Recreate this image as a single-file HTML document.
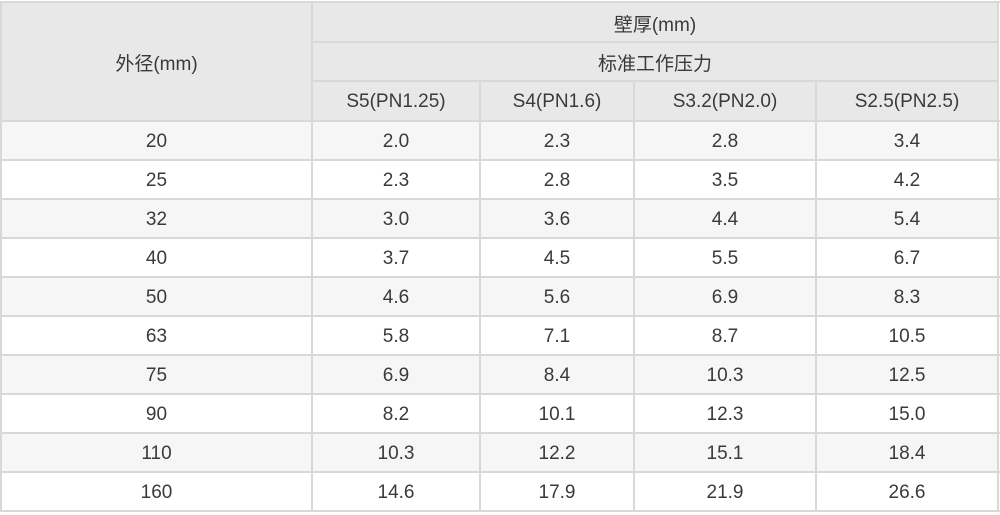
<!DOCTYPE html>
<html><head><meta charset="utf-8"><style>
body{margin:0;width:1000px;height:515px;background:#fff;position:relative;overflow:hidden;font-family:"Liberation Sans","Noto Sans CJK SC",sans-serif;color:#3a3a3a;font-size:19px}
.c{position:absolute;display:flex;align-items:center;justify-content:center;padding-top:2px;box-sizing:border-box}
.h{position:absolute;background:#d8d8d8;height:2px}
.v{position:absolute;background:#d8d8d8;width:2px}
</style></head><body>
<div style="position:absolute;left:1px;top:2px;width:997px;height:119px;background:#e8e8e8"></div>
<div id="rows"></div>
<script>
var data=[["20","2.0","2.3","2.8","3.4"],["25","2.3","2.8","3.5","4.2"],["32","3.0","3.6","4.4","5.4"],["40","3.7","4.5","5.5","6.7"],["50","4.6","5.6","6.9","8.3"],["63","5.8","7.1","8.7","10.5"],["75","6.9","8.4","10.3","12.5"],["90","8.2","10.1","12.3","15.0"],["110","10.3","12.2","15.1","18.4"],["160","14.6","17.9","21.9","26.6"]];
var xs=[1,312,480,634,816,998];
var ys=[121,160,199,238,277,316,355,394,433,472,511];
var h="";
for(var r=0;r<10;r++){
 if(r%2==0)h+='<div style="position:absolute;left:1px;top:'+ys[r]+'px;width:997px;height:39px;background:#f6f6f6"></div>';
 for(var c=0;c<5;c++)h+='<div class="c" style="left:'+xs[c]+'px;top:'+ys[r]+'px;width:'+(xs[c+1]-xs[c])+'px;height:39px">'+data[r][c]+'</div>';
}
var hd=["S5(PN1.25)","S4(PN1.6)","S3.2(PN2.0)","S2.5(PN2.5)"];
for(var c=0;c<4;c++)h+='<div class="c" style="left:'+xs[c+1]+'px;top:81px;width:'+(xs[c+2]-xs[c+1])+'px;height:40px">'+hd[c]+'</div>';
h+='<div class="c" style="left:1px;top:2px;width:311px;height:119px">外径(mm)</div>';
h+='<div class="c" style="left:312px;top:2px;width:686px;height:40px">壁厚(mm)</div>';
h+='<div class="c" style="left:312px;top:42px;width:686px;height:39px">标准工作压力</div>';
h+='<div class="h" style="left:0;top:1px;width:1000px"></div>';
h+='<div class="h" style="left:311px;top:41px;width:688px"></div>';
h+='<div class="h" style="left:311px;top:80px;width:688px"></div>';
for(var r=0;r<11;r++)h+='<div class="h" style="left:0;top:'+(ys[r]-1)+'px;width:1000px"></div>';
h+='<div class="v" style="left:0;top:1px;height:511px"></div>';
h+='<div class="v" style="left:311px;top:1px;height:511px"></div>';
h+='<div class="v" style="left:997px;top:1px;height:511px"></div>';
for(var c=2;c<5;c++)h+='<div class="v" style="left:'+(xs[c]-1)+'px;top:80px;height:432px"></div>';
document.getElementById("rows").innerHTML=h;
</script>
</body></html>
